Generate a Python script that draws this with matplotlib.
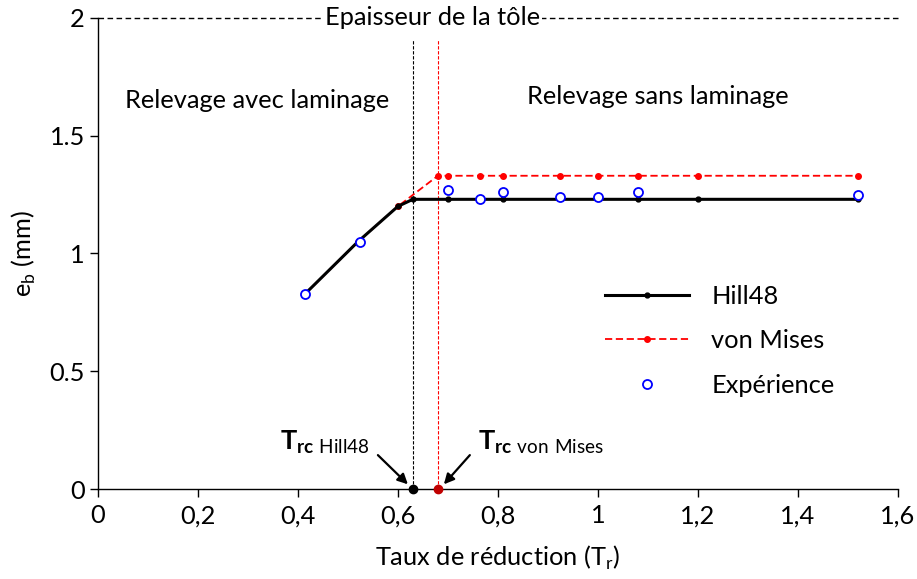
import matplotlib.pyplot as plt
from matplotlib.ticker import FixedLocator, FuncFormatter

plt.rcParams['font.family'] = ['Lato', 'DejaVu Sans']
plt.rcParams['mathtext.fontset'] = 'custom'
plt.rcParams['mathtext.rm'] = 'Lato'
plt.rcParams['mathtext.bf'] = 'Lato:bold'

# Hill48 model
hill_x = [0.415, 0.52, 0.60, 0.63, 0.70, 0.81, 1.08, 1.20, 1.52]
hill_y = [0.83, 1.05, 1.20, 1.23, 1.23, 1.23, 1.23, 1.23, 1.23]

# von Mises model
mises_x = [0.415, 0.52, 0.60, 0.68, 0.70, 0.765, 0.81, 0.925, 1.0, 1.08, 1.20, 1.52]
mises_y = [0.83, 1.05, 1.20, 1.33, 1.33, 1.33, 1.33, 1.33, 1.33, 1.33, 1.33, 1.33]

# measurements
exp_x = [0.415, 0.525, 0.70, 0.765, 0.81, 0.925, 1.0, 1.08, 1.52]
exp_y = [0.83, 1.05, 1.27, 1.23, 1.26, 1.24, 1.24, 1.26, 1.25]

trc_hill = 0.63
trc_mises = 0.68
thickness = 2.0

FS = 18.3

fig = plt.figure(figsize=(9.17, 5.79), dpi=100)
ax = fig.add_axes([0.1069, 0.1554, 0.872, 0.8136])

l_mises, = ax.plot(mises_x, mises_y, color='red', ls=(0, (4, 2)), lw=1.3,
                   marker='o', ms=4, label='von Mises', zorder=2)
l_hill, = ax.plot(hill_x, hill_y, color='black', lw=2.2,
                  marker='o', ms=3.5, label='Hill48', zorder=3)
l_exp, = ax.plot(exp_x, exp_y, ls='none', marker='o', ms=6.5, mfc='white',
                 mec='blue', mew=1.3, label='Expérience', zorder=4)

# critical reduction ratios
ax.plot([trc_hill, trc_hill], [0, 1.91], color='black', ls=(0, (3, 1.5)), lw=0.8, zorder=1)
ax.plot([trc_mises, trc_mises], [0, 1.91], color='red', ls=(0, (3, 1.5)), lw=0.8, zorder=1)
ax.plot([trc_hill], [0], 'o', color='black', ms=6, clip_on=False, zorder=5)
ax.plot([trc_mises], [0], 'o', color='#c00000', ms=6, clip_on=False, zorder=5)

# sheet thickness
ax.plot([0, 1.6], [thickness, thickness], color='black', ls=(0, (4, 2.5)), lw=1.0, clip_on=False)
ax.text(0.67, thickness, 'Epaisseur de la tôle', ha='center', va='center', fontsize=FS,
        bbox=dict(facecolor='white', edgecolor='none', pad=1))

ax.text(0.318, 1.65, 'Relevage avec laminage', ha='center', va='center', fontsize=FS)
ax.text(1.12, 1.665, 'Relevage sans laminage', ha='center', va='center', fontsize=FS)

arrow = dict(arrowstyle='-|>', color='black', lw=1.6, shrinkA=0, shrinkB=0, mutation_scale=15)
ax.annotate('', xy=(0.62, 0.02), xytext=(0.56, 0.144), arrowprops=arrow)
ax.annotate('', xy=(0.692, 0.02), xytext=(0.744, 0.144), arrowprops=arrow)
ax.text(0.364, 0.20, r'$\mathbf{T}_{\mathbf{rc}\ \mathrm{Hill48}}$', fontsize=19.5,
        ha='left', va='center')
ax.text(0.76, 0.20, r'$\mathbf{T}_{\mathbf{rc}\ \mathrm{von\ Mises}}$', fontsize=19.5,
        ha='left', va='center')

ax.set_xlim(0, 1.6)
ax.set_ylim(0, 2)
ax.xaxis.set_major_locator(FixedLocator([0, 0.2, 0.4, 0.6, 0.8, 1.0, 1.2, 1.4, 1.6]))
ax.xaxis.set_major_formatter(FuncFormatter(lambda v, p: ('%g' % round(v, 1)).replace('.', ',')))
ax.yaxis.set_major_locator(FixedLocator([0, 0.5, 1, 1.5, 2]))
ax.yaxis.set_major_formatter(FuncFormatter(lambda v, p: '%g' % v))
ax.tick_params(direction='out', length=6, width=1, labelsize=FS)
ax.tick_params(axis='x', pad=5)
for s in ['top', 'right']:
    ax.spines[s].set_visible(False)
ax.spines['left'].set_linewidth(1.0)
ax.spines['bottom'].set_linewidth(1.0)

ax.set_xlabel('Taux de réduction (T$_\\mathregular{r}$)', fontsize=FS, labelpad=12)
ax.set_ylabel('e$_\\mathregular{b}$ (mm)', fontsize=FS, labelpad=8)

ax.legend(handles=[l_hill, l_mises, l_exp], loc='center left', bbox_to_anchor=(0.605, 0.315),
          frameon=False, fontsize=FS, handlelength=3.3, labelspacing=0.85, handletextpad=0.9)

fig.savefig('out.png', dpi=100)
